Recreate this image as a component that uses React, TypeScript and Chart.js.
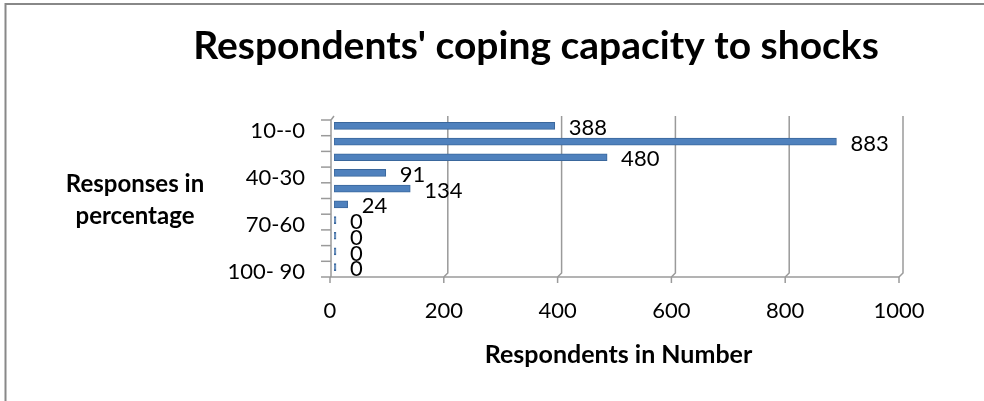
import React, { useEffect, useRef } from "react";
import { Chart, registerables } from "chart.js";

Chart.register(...registerables);

// Response bands (percentage) and the number of respondents in each
const categories = [
  "10--0",
  "20-10",
  "30-20",
  "40-30",
  "50-40",
  "60-50",
  "70-60",
  "80-70",
  "90-80",
  "100- 90",
];
const respondents = [388, 883, 480, 91, 134, 24, 0, 0, 0, 0];
const xTickValues = [0, 200, 400, 600, 800, 1000];

const chartTitle = "Respondents' coping capacity to shocks";
const yTitleLines = ["Responses in", "percentage"];
const xTitle = "Respondents in Number";

const FONT = "Lato, 'Open Sans', sans-serif";
const GRID = "#9a9a9a";
const DEPTH = 4; // pseudo-3D floor depth in px

// Back-wall gridlines, the floor edge, tick marks and the left wall
const frame3d = {
  id: "frame3d",
  beforeDatasetsDraw(chart: any) {
    const { ctx, chartArea } = chart;
    const { top, bottom, left } = chartArea;
    const xs = chart.scales.x;
    ctx.save();
    ctx.strokeStyle = GRID;
    ctx.lineWidth = 1.5;

    // gridlines on the back wall, bending down to the front floor edge
    xTickValues.forEach((v, i) => {
      if (i === 0) return;
      const px = xs.getPixelForValue(v);
      ctx.beginPath();
      ctx.moveTo(px, top - 2);
      ctx.lineTo(px, bottom - 2);
      ctx.lineTo(px - DEPTH, bottom + 2);
      ctx.stroke();
    });

    // front floor edge
    const x0 = xs.getPixelForValue(0) - DEPTH;
    const x1 = xs.getPixelForValue(1000) - DEPTH;
    ctx.beginPath();
    ctx.moveTo(x0, bottom + 2);
    ctx.lineTo(x1, bottom + 2);
    ctx.stroke();

    // x tick marks under the floor edge
    xTickValues.forEach((v) => {
      const px = xs.getPixelForValue(v) - DEPTH;
      ctx.beginPath();
      ctx.moveTo(px, bottom + 2);
      ctx.lineTo(px, bottom + 8);
      ctx.stroke();
    });

    // left wall with its top bend
    ctx.beginPath();
    ctx.moveTo(left, top - 2);
    ctx.lineTo(left - DEPTH + 1, top + 2);
    ctx.lineTo(left - DEPTH + 1, bottom + 2);
    ctx.stroke();

    // category boundary tick marks
    const n = categories.length;
    const step = (bottom - top) / n;
    for (let k = 0; k <= n; k++) {
      const py = top + 2 + k * step;
      ctx.beginPath();
      ctx.moveTo(left - DEPTH - 9, py);
      ctx.lineTo(left - DEPTH + 1, py);
      ctx.stroke();
    }
    ctx.restore();
  },
};

// Value labels to the right of each bar
const valueLabels = {
  id: "valueLabels",
  afterDatasetsDraw(chart: any) {
    const { ctx } = chart;
    const meta = chart.getDatasetMeta(0);
    ctx.save();
    ctx.font = `22px ${FONT}`;
    ctx.fillStyle = "#000";
    ctx.textAlign = "left";
    ctx.textBaseline = "middle";
    meta.data.forEach((bar: any, i: number) => {
      ctx.fillText(String(respondents[i]), bar.x + 14, bar.y + 2);
    });
    ctx.restore();
  },
};

// Chart title, axis titles and the outer frame
const texts = {
  id: "texts",
  afterDraw(chart: any) {
    const { ctx, chartArea } = chart;
    ctx.save();
    ctx.fillStyle = "#000";
    ctx.textAlign = "center";
    ctx.textBaseline = "alphabetic";

    ctx.font = `bold 39px ${FONT}`;
    ctx.fillText(chartTitle, 536, 59);

    ctx.font = `bold 24px ${FONT}`;
    ctx.fillText(yTitleLines[0], 135, 192);
    ctx.fillText(yTitleLines[1], 135, 224);

    ctx.font = `bold 25px ${FONT}`;
    ctx.fillText(xTitle, (chartArea.left + chartArea.right) / 2, 363);

    // outer frame (top and left edges)
    ctx.strokeStyle = "#888";
    ctx.lineWidth = 2;
    ctx.beginPath();
    ctx.moveTo(984, 4);
    ctx.lineTo(5.5, 4);
    ctx.lineTo(5.5, 401);
    ctx.stroke();
    ctx.restore();
  },
};

export default function App() {
  const canvasRef = useRef<HTMLCanvasElement | null>(null);

  useEffect(() => {
    const canvas = canvasRef.current;
    if (!canvas) return;
    const chart = new Chart(canvas, {
      type: "bar",
      data: {
        labels: categories,
        datasets: [
          {
            data: respondents,
            backgroundColor: "#4F81BD",
            borderColor: "#3A679C",
            borderWidth: 1,
            borderSkipped: false,
            barThickness: 7,
            minBarLength: 2,
          },
        ],
      },
      options: {
        indexAxis: "y",
        animation: false,
        responsive: false,
        maintainAspectRatio: false,
        devicePixelRatio: 1,
        layout: { padding: { top: 118, right: 81, bottom: 0, left: 0 } },
        plugins: {
          legend: { display: false },
          tooltip: { enabled: false },
          title: { display: false },
        },
        scales: {
          x: {
            type: "linear",
            position: "bottom",
            min: 0,
            max: 1000,
            afterBuildTicks(scale: any) {
              scale.ticks = xTickValues.map((v) => ({ value: v }));
            },
            afterFit(scale: any) {
              scale.height = 126;
            },
            grid: { display: false },
            border: { display: false },
            ticks: {
              font: { family: FONT, size: 22 },
              color: "#000",
              padding: 15,
              labelOffset: -DEPTH,
              maxRotation: 0,
              callback: (value: any) => String(value),
            },
          },
          y: {
            type: "category",
            afterFit(scale: any) {
              scale.width = 334;
            },
            grid: { display: false },
            border: { display: false },
            ticks: {
              autoSkip: false,
              font: { family: FONT, size: 22 },
              color: "#000",
              padding: 21,
              labelOffset: 5,
              callback: (_v: any, index: number) =>
                index % 3 === 0 ? categories[index] : "",
            },
          },
        },
      },
      plugins: [frame3d, valueLabels, texts],
    });
    return () => chart.destroy();
  }, []);

  return (
    <div
      style={{
        position: "fixed",
        left: 0,
        top: 0,
        width: 984,
        height: 401,
        background: "#fff",
      }}
    >
      <canvas ref={canvasRef} width={984} height={401} />
    </div>
  );
}
